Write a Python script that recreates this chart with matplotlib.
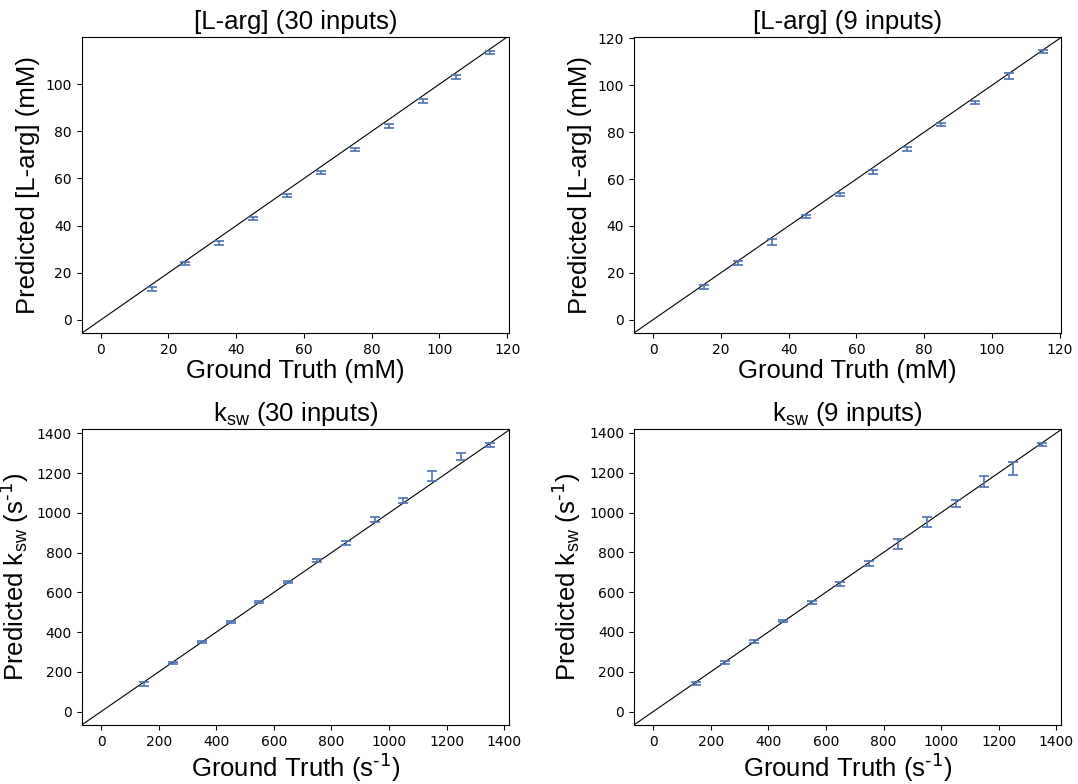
import matplotlib
matplotlib.use('Agg')
import matplotlib.pyplot as plt
import numpy as np

# Label font (ticks stay DejaVu Sans)
plt.rcParams['mathtext.default'] = 'regular'
label_font = 'Liberation Sans'
label_size = 18.5
bar_color = '#4C72B0'

# Ground truth values
larg_true = [15, 25, 35, 45, 55, 65, 75, 85, 95, 105, 115]
ksw_true = [150, 250, 350, 450, 550, 650, 750, 850, 950, 1050, 1150, 1250, 1350]

# [L-arg] predictions, 30 inputs
larg30_pred = [13.1, 23.9, 32.6, 43.1, 52.8, 62.4, 72.3, 82.3, 92.7, 103.1, 113.3]
larg30_err = [0.8, 0.7, 0.8, 0.7, 0.8, 0.7, 0.8, 0.7, 0.8, 0.8, 0.7]

# [L-arg] predictions, 9 inputs
larg9_pred = [13.8, 24.2, 33.2, 44.0, 53.3, 63.0, 72.8, 83.2, 92.8, 103.9, 114.4]
larg9_err = [0.8, 0.7, 1.2, 0.6, 0.6, 1.0, 1.0, 0.6, 0.7, 1.2, 0.6]

# ksw predictions, 30 inputs
ksw30_pred = [140, 245, 350, 450, 551, 650, 761, 849, 965, 1062, 1185, 1284, 1343]
ksw30_err = [9, 6, 5, 6, 5, 5, 9, 10, 12, 13, 25, 18, 11]

# ksw predictions, 9 inputs
ksw9_pred = [140, 246, 351, 456, 547, 641, 745, 842, 953, 1046, 1154, 1221, 1341]
ksw9_err = [7, 8, 7, 6, 7, 9, 14, 23, 24, 19, 28, 32, 8]

# Panel layout (figure fractions)
col_left = [0.0758, 0.588]
row_bottom = [0.5753, 0.0753]
ax_w = 0.3966
ax_h = 0.3769

inv_s = 's$^{\\text{-1}}$'
panels = [
    (0, 0, larg_true, larg30_pred, larg30_err, '[L-arg] (30 inputs)',
     'Ground Truth (mM)', 'Predicted [L-arg] (mM)', (-5.6, 120.6), (-5.5, 119.8)),
    (0, 1, larg_true, larg9_pred, larg9_err, '[L-arg] (9 inputs)',
     'Ground Truth (mM)', 'Predicted [L-arg] (mM)', (-5.7, 120.5), (-5.7, 120.4)),
    (1, 0, ksw_true, ksw30_pred, ksw30_err, 'k$_{sw}$ (30 inputs)',
     'Ground Truth (' + inv_s + ')', 'Predicted k$_{sw}$ (' + inv_s + ')', (-67.5, 1417.5), (-67.5, 1420)),
    (1, 1, ksw_true, ksw9_pred, ksw9_err, 'k$_{sw}$ (9 inputs)',
     'Ground Truth (' + inv_s + ')', 'Predicted k$_{sw}$ (' + inv_s + ')', (-67.5, 1417.5), (-67.5, 1417.5)),
]

fig = plt.figure(figsize=(10.78, 7.84), dpi=100)

for row, col, x, y, err, title, xlab, ylab, xlim, ylim in panels:
    ax = fig.add_axes([col_left[col], row_bottom[row], ax_w, ax_h])

    # Identity line, corner to corner
    lo = min(xlim[0], ylim[0])
    hi = max(xlim[1], ylim[1])
    ax.plot([lo, hi], [lo, hi], color='black', linewidth=0.8)

    # Prediction error bars
    ax.errorbar(x, y, yerr=err, fmt='none', ecolor=bar_color,
                elinewidth=1.2, capsize=3.5, capthick=1.2)

    ax.set_xlim(xlim)
    ax.set_ylim(ylim)
    ax.set_title(title, fontsize=label_size, family=label_font)
    ax.set_xlabel(xlab, fontsize=label_size, family=label_font, labelpad=2)
    ax.set_ylabel(ylab, fontsize=label_size, family=label_font)

plt.savefig('out.png', dpi=100)
print('End Program')
